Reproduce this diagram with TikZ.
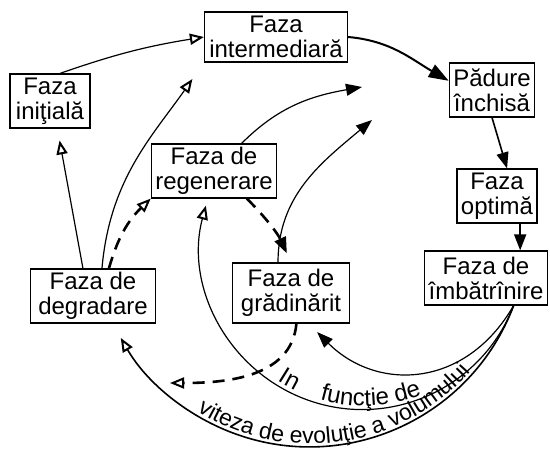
\documentclass[tikz,border=0pt]{standalone}
\usepackage{fontspec}
\setmainfont{Liberation Sans}
\usetikzlibrary{arrows.meta,decorations.text}

\tikzset{
  faza/.style={draw,line width=0.6pt,align=center,inner xsep=2pt,inner ysep=1.5pt,
    minimum height=27pt,font=\fontsize{12}{12.5}\selectfont},
  link/.style={line width=0.6pt},
  dashlink/.style={line width=1.3pt,dash pattern=on 6pt off 4pt},
  fulltip/.style={-{Triangle[length=8pt,width=6pt]}},
  bigtip/.style={-{Triangle[length=10pt,width=7pt]}},
  opentip/.style={-{Triangle[open,length=7pt,width=5.5pt,line width=1pt]}},
}

\begin{document}
\begin{tikzpicture}[x=0.5pt,y=0.5pt]
\useasboundingbox (0,0) rectangle (550,449);
% fazele
\node[faza,minimum width=40pt] (initiala) at (50,348) {Faza\\iniţială};
\node[faza,minimum width=71.5pt,minimum height=25pt] (intermediara) at (276,412) {Faza\\intermediară};
\node[faza,minimum width=39pt] (padure) at (492,359) {Pădure\\închisă};
\node[faza,minimum width=40pt] (optima) at (497,253) {Faza\\optimă};
\node[faza,minimum width=61pt] (imbatrinire) at (486,171) {Faza de\\îmbătrînire};
\node[faza,minimum width=58.5pt,minimum height=30pt] (gradinarit) at (291,156) {Faza de\\grădinărit};
\node[faza,minimum width=61pt] (regenerare) at (214,278) {Faza de\\regenerare};
\node[faza,minimum width=62.5pt] (degradare) at (93,153) {Faza de\\degradare};

% capete libere
\coordinate (spreA) at (362,362);
\coordinate (spreB) at (372,329);
\coordinate (spreC) at (170,66);

% succesiunea
\draw[link,opentip] (initiala.70) to[bend left=5] (intermediara.west);
\draw[link,bigtip,line width=1pt] (intermediara.east) to[out=-5,in=150] (padure.168);
\draw[link,fulltip,line width=0.8pt] (padure.south) -- (optima.70);
\draw[link,fulltip,line width=0.8pt] (optima.310) -- (optima.310 |- imbatrinire.north);

% regresia
\draw[link,opentip,shorten >=6pt] (degradare.110) -- (initiala.285);
\draw[link,opentip,shorten >=10pt] (degradare.72) to[out=85,in=235] (intermediara.south west);
\draw[dashlink,opentip] (degradare.60) to[bend left=15] (regenerare.south west);
\draw[link,fulltip] (regenerare.45) to[out=45,in=190] (spreA);
\draw[link,fulltip] (gradinarit.113) to[out=90,in=220] (spreB);
\draw[dashlink,fulltip,shorten >=5pt] (regenerare.320) to[bend left=10] (gradinarit.north);
\draw[dashlink,opentip] (gradinarit.280) to[out=265,in=0] (spreC);

% in functie de viteza
\draw[link,line width=0.8pt,opentip] (imbatrinire.-45) arc[start angle=-20.6,end angle=-150,radius=218];
\draw[link,fulltip,shorten >=6pt] (imbatrinire.-45) to[out=240,in=-45,looseness=1.2] (gradinarit.-60);
\draw[link,opentip] (imbatrinire.-45) arc[start angle=-21,end angle=-195,radius=162];

\path[decorate,decoration={text along path,text align=left,
  text={|\fontsize{12}{12}\selectfont|In\ \ \ \ funcţie de}}]
  (363,200) ++(237:157) arc[start angle=237,end angle=300,radius=157];
\path[decorate,decoration={text along path,text align=left,
  text={|\fontsize{11.5}{12}\selectfont|viteza de evoluţie a volumului}}]
  (310.4,219.2) ++(238:214) arc[start angle=238,end angle=330,radius=214];
\end{tikzpicture}
\end{document}
